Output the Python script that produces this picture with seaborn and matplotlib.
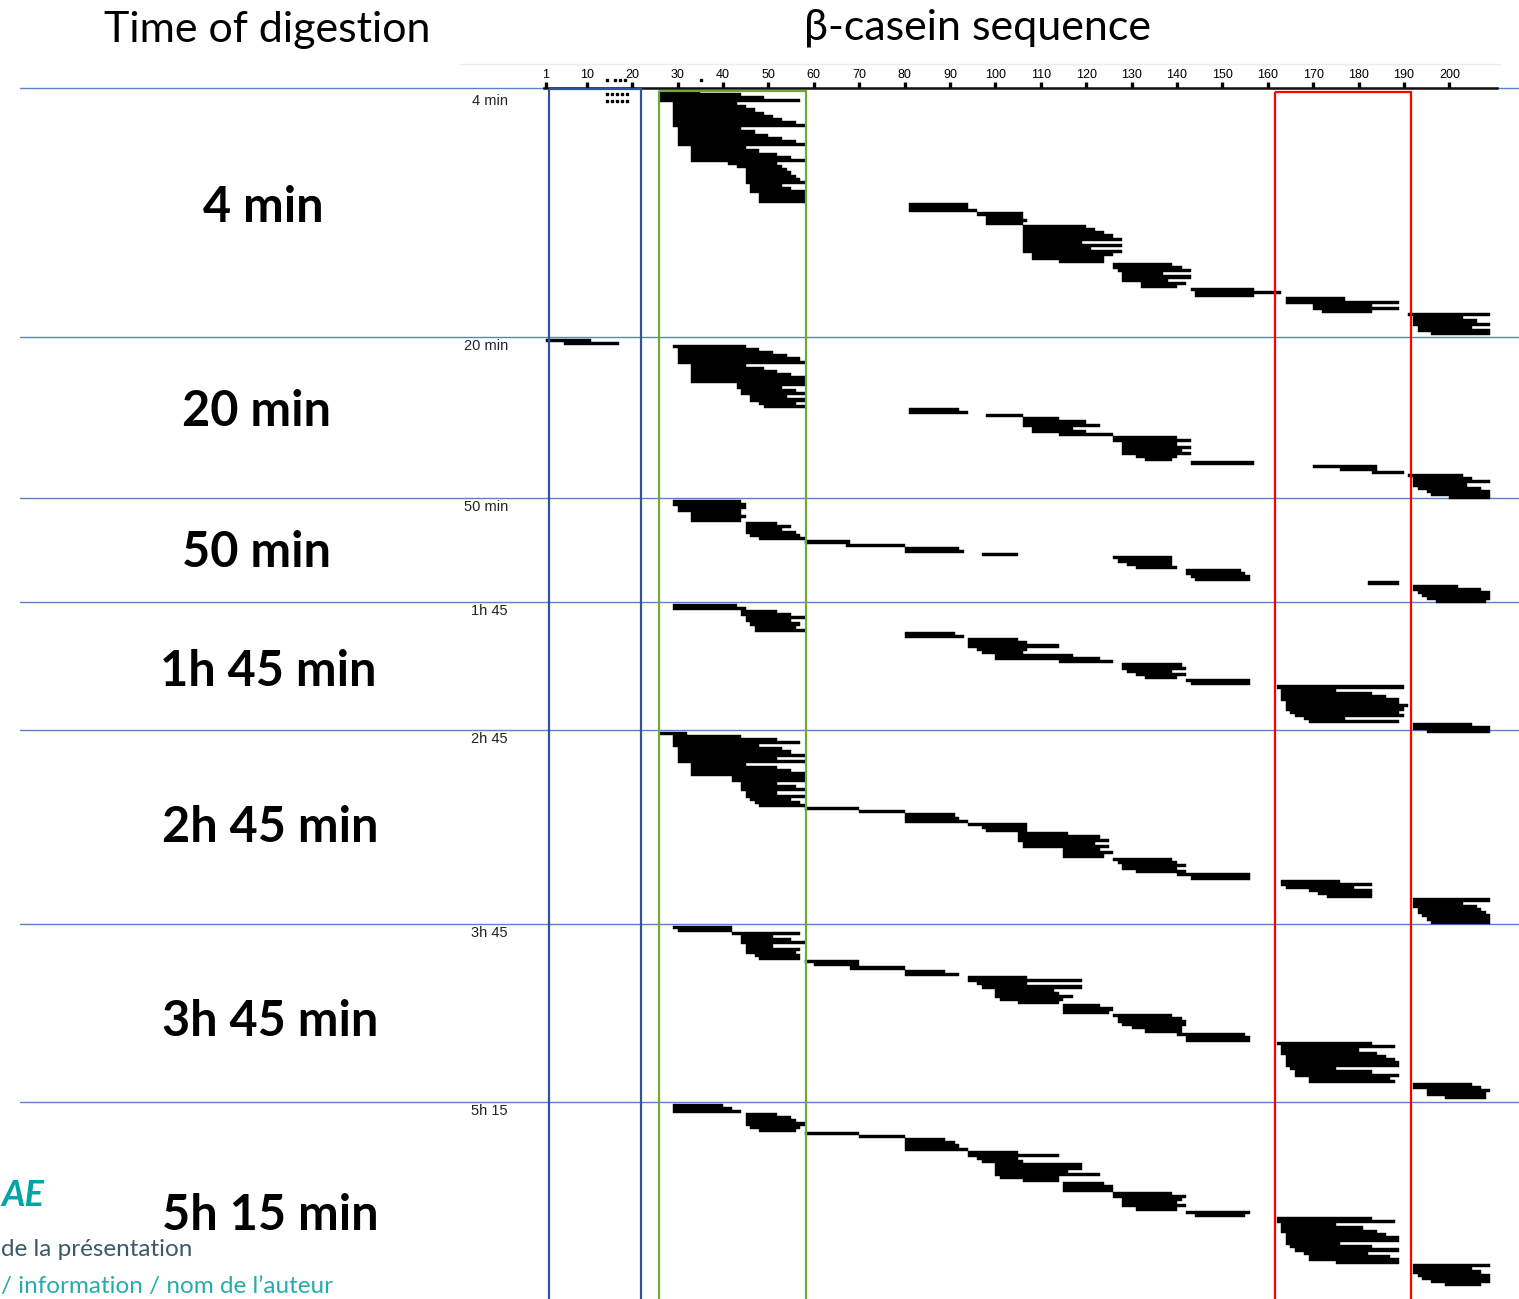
import matplotlib.pyplot as plt
import numpy as np
import pandas as pd
import seaborn as sns
from matplotlib.lines import Line2D
from matplotlib.patches import Rectangle

# peptides found at each digestion time: (first residue, last residue),
# listed in the order they are stacked in the map (one row each)
pep_4min = [
    (26, 35), (26, 44), (26, 49), (26, 57),
    (29, 43), (29, 45), (29, 47), (29, 49), (29, 51), (29, 53), (29, 56), (29, 58),
    (30, 44), (30, 47), (30, 50), (30, 53), (30, 56), (30, 58),
    (33, 45), (33, 48), (33, 52), (33, 55), (33, 58),
    (41, 52), (43, 53), (45, 54), (45, 55), (45, 56), (45, 57), (45, 58),
    (46, 53), (46, 55), (46, 58), (48, 58), (48, 58), (48, 58),
    (81, 94), (81, 94), (81, 96),
    (96, 106), (98, 106), (98, 107), (98, 106),
    (106, 120), (106, 122), (106, 124), (106, 126), (106, 128), (106, 119),
    (106, 128), (106, 121), (106, 128), (108, 126), (108, 124), (114, 124),
    (126, 139), (126, 141), (127, 143), (128, 137), (128, 143), (128, 138), (132, 142), (132, 140),
    (143, 157), (144, 163), (144, 157),
    (164, 177), (164, 189), (170, 183), (170, 189), (172, 183),
    (191, 209), (192, 203), (192, 206), (192, 209), (193, 205), (193, 209), (196, 209),
]
pep_20min = [
    (1, 11), (5, 17),
    (29, 45), (30, 48), (30, 51), (30, 54), (30, 57), (30, 58),
    (33, 45), (33, 49), (33, 52), (33, 55), (33, 58), (33, 58),
    (43, 58), (43, 53), (44, 56), (44, 58), (46, 54), (46, 58), (48, 56), (49, 58),
    (81, 92), (81, 94),
    (98, 106),
    (106, 114), (106, 120), (106, 123), (108, 117), (108, 120),
    (114, 126),
    (126, 140), (126, 143), (128, 140), (128, 143), (128, 141), (128, 143), (131, 140), (133, 139),
    (143, 157),
    (170, 184),
    (176, 184), (183, 190),
    (191, 203), (192, 205), (192, 209), (192, 204), (193, 207), (195, 209), (196, 209), (200, 209),
]
pep_50min = [
    (29, 44), (29, 45), (30, 45), (30, 44), (33, 44), (33, 45), (33, 44),
    (45, 52), (45, 55), (45, 53), (45, 56), (46, 57), (48, 58),
    (58, 68), (67, 80),
    (80, 92), (80, 93),
    (97, 105),
    (126, 139), (127, 139), (129, 139), (131, 140),
    (142, 154), (142, 155), (143, 156), (144, 156),
    (182, 189),
    (192, 202), (192, 207), (193, 209), (194, 209), (195, 209), (197, 208),
]
pep_1h45 = [
    (29, 43), (29, 45),
    (44, 52), (44, 55), (45, 58), (45, 55), (46, 57), (47, 56), (47, 58),
    (80, 91), (80, 93),
    (94, 105), (94, 107), (94, 114), (96, 107), (97, 106), (100, 117), (100, 123), (114, 126),
    (128, 141), (128, 142), (129, 139), (131, 142), (133, 140),
    (142, 156), (143, 156),
    (162, 190), (163, 175), (163, 183), (163, 186), (163, 189), (164, 189),
    (164, 191), (164, 190), (165, 189), (166, 190), (168, 177), (169, 189),
    (192, 205), (192, 209), (195, 209),
]
pep_2h45 = [
    (26, 32),
    (29, 44), (29, 52), (29, 57), (29, 48), (30, 53), (30, 55), (30, 58), (30, 52), (30, 58),
    (33, 45), (33, 52), (33, 55), (33, 58),
    (42, 58), (42, 58), (44, 52), (44, 56), (44, 58), (45, 52), (45, 58), (46, 55), (47, 57), (48, 58),
    (58, 70), (70, 80),
    (80, 91), (80, 92), (80, 94),
    (94, 107), (97, 107), (98, 107),
    (105, 116), (105, 123), (105, 125), (106, 122), (106, 125),
    (115, 123), (115, 126), (115, 124),
    (126, 139), (127, 140), (128, 142), (128, 140), (131, 142),
    (140, 156), (143, 156),
    (163, 176), (163, 183), (164, 179), (169, 183), (171, 183), (173, 183),
    (192, 209), (192, 203), (192, 206), (193, 207), (193, 208), (194, 209), (195, 209), (196, 209),
]
pep_3h45 = [
    (29, 42), (30, 42),
    (42, 57), (44, 51), (44, 55), (44, 58), (45, 51), (45, 57), (45, 56), (47, 57), (48, 57),
    (58, 70), (60, 70), (68, 80),
    (80, 89), (80, 92),
    (94, 107), (94, 119), (96, 107), (97, 119), (100, 113),
    (100, 114), (100, 117), (101, 115), (105, 114),
    (115, 123), (115, 126), (115, 125),
    (126, 139), (127, 141), (127, 142), (128, 142), (130, 141), (133, 141),
    (140, 155), (142, 156), (142, 156),
    (162, 183), (163, 188), (163, 180), (163, 184), (164, 186), (164, 188), (164, 189),
    (164, 189), (165, 175), (166, 183), (166, 189), (169, 187), (169, 188),
    (192, 205), (192, 207), (195, 209), (195, 208), (199, 208),
]
pep_5h15 = [
    (29, 40), (29, 42), (29, 44),
    (45, 52), (45, 55), (45, 56), (45, 58), (46, 57), (48, 56),
    (58, 70), (70, 80),
    (80, 89), (80, 91), (80, 92), (80, 94),
    (94, 105), (94, 114), (96, 105), (97, 106), (100, 119), (100, 119), (100, 116),
    (100, 123), (101, 114), (106, 114),
    (115, 124), (115, 126), (115, 126),
    (126, 139), (126, 142), (128, 141), (128, 140), (128, 142), (131, 140),
    (142, 156), (144, 155),
    (162, 183), (162, 188), (163, 175), (163, 181), (163, 184), (164, 186), (164, 189),
    (164, 189), (164, 176), (165, 183), (166, 189), (168, 182), (169, 187), (169, 189), (175, 189),
    (192, 209), (192, 205), (192, 207), (193, 209), (194, 209), (196, 209), (199, 207),
]

# tiny one-residue hits drawn as dots in the 4 min map
dots_4min = [14.4, 15.6, 16.7, 17.7, 18.8]
dots_above_axis = [14.4, 16.2, 17.3, 18.4, 35.1]

time_labels = ["4 min", "20 min", "50 min", "1h 45 min", "2h 45 min", "3h 45 min", "5h 15 min"]
panel_tags = ["4 min", "20 min", "50 min", "1h 45", "2h 45", "3h 45", "5h 15"]
seq_ticks = [1] + list(range(10, 201, 10))

# highlighted stretches of the sequence (residue from, residue to, colour)
regions = [(1.7, 21.9, "#2f5597"), (25.9, 58.3, "#72a83a"), (161.6, 191.5, "#ff0000")]

panels = [pep_4min, pep_20min, pep_50min, pep_1h45, pep_2h45, pep_3h45, pep_5h15]

# ---- layout (pixels of the 1519x1299 picture) ----
W, H = 1519, 1299
PANEL_TOP = [88, 337, 498, 602, 730, 924, 1102]
ROW_PX = 3.15
LABEL_X = [263, 257, 257, 268, 270, 270, 270]
LABEL_Y = [208, 412, 553, 672, 828, 1022, 1215]
SEP_BLUE = "#5b82c8"

sns.set_theme(style="white")
plt.rcParams["font.family"] = ["Lato", "DejaVu Sans"]


def fx(px):
    return px / W


def fy(py):
    return 1 - py / H


recs = []
for p, peps in enumerate(panels):
    for i, (s, e) in enumerate(peps):
        recs.append({"panel": p, "row": i, "start": s, "end": e})
df = pd.DataFrame(recs)
df["y"] = np.array(PANEL_TOP)[df["panel"]] + 1.5 + df["row"] * ROW_PX

fig = plt.figure(figsize=(W / 100, H / 100), dpi=100)
ax = fig.add_axes([fx(543.7), 0, fx(1497) - fx(543.7), 1 - 88 / H])
ax.patch.set_visible(False)
ax.set_xlim(0.5, 210.5)
ax.set_ylim(H, 88)

ax.barh(df["y"], df["end"] - df["start"], left=df["start"], height=ROW_PX,
        align="edge", color="black", edgecolor="black", linewidth=0.3, zorder=3)

y0 = PANEL_TOP[0] + 1.5
ax.plot(dots_4min, [y0 + 1.5 * ROW_PX] * len(dots_4min), "s", ms=1.9, color="black", zorder=3)
ax.plot(dots_4min, [y0 + 3.5 * ROW_PX] * len(dots_4min), "s", ms=1.9, color="black", zorder=3)
ax.plot(dots_above_axis, [y0 - 3 * ROW_PX] * len(dots_above_axis), "s", ms=1.9,
        color="black", zorder=3, clip_on=False)

# boxes around regions of interest
for (r0, r1, col), top in zip(regions, [88.5, 90.5, 91.5]):
    ax.add_patch(Rectangle((r0, top), r1 - r0, H, fill=False, edgecolor=col,
                           linewidth=1.6, zorder=5, clip_on=False))

# sequence axis on top
ax.xaxis.tick_top()
ax.set_xticks(seq_ticks)
ax.set_xticklabels([str(t) for t in seq_ticks], fontfamily="Liberation Sans")
ax.tick_params(axis="x", top=True, bottom=False, direction="out", length=4,
               width=2.4, pad=1, labelsize=9, colors="black")
ax.set_yticks([])
for side in ["left", "right", "bottom"]:
    ax.spines[side].set_visible(False)
ax.spines["top"].set_linewidth(1.8)
ax.spines["top"].set_color("#111111")

# separators between digestion times
for top in PANEL_TOP:
    fig.add_artist(Line2D([fx(20), fx(W)], [fy(top), fy(top)], color=SEP_BLUE,
                          linewidth=1.0, zorder=-1))
fig.add_artist(Line2D([fx(460), fx(1500)], [fy(64), fy(64)], color="#ececec",
                      linewidth=1.0, zorder=-1))

for p, top in enumerate(PANEL_TOP):
    fig.text(fx(508), fy(top + (13 if p == 0 else 9)), panel_tags[p], ha="right",
             va="center", fontsize=10.5, family="Liberation Sans", color="#222222")
    fig.text(fx(LABEL_X[p]), fy(LABEL_Y[p]), time_labels[p], ha="center", va="center",
             fontsize=35, fontweight="bold", color="black")

fig.text(fx(267), fy(30), "Time of digestion", ha="center", va="center", fontsize=31, color="black")
fig.text(fx(978), fy(28), "β-casein sequence", ha="center", va="center", fontsize=31, color="black")

# slide footer (only the part left inside the picture)
fig.text(fx(1), fy(1195), "AE", ha="left", va="center", fontsize=26,
         fontweight="bold", fontstyle="italic", color="#00a3a6")
fig.text(fx(1), fy(1249), "de la présentation", ha="left", va="center",
         fontsize=17.5, color="#3b5a68")
fig.text(fx(1), fy(1287), "/ information / nom de l\u2019auteur", ha="left",
         va="center", fontsize=17.5, color="#29aaae")

fig.savefig("out.png", dpi=100)
